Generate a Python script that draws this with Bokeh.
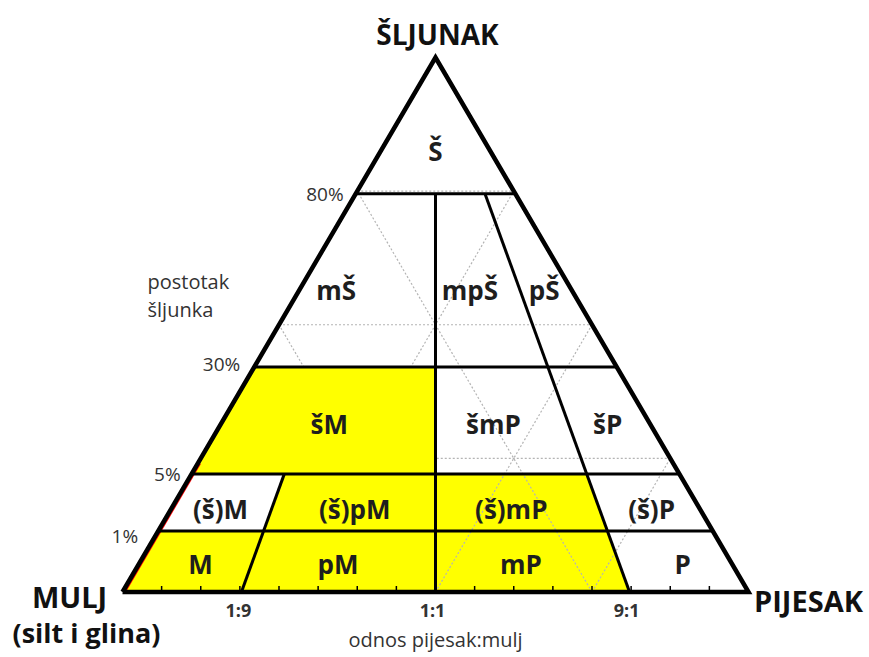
from bokeh.plotting import figure
from bokeh.models import Range1d, ColumnDataSource
from bokeh.core.properties import value
from bokeh.embed import file_html
from bokeh.resources import INLINE

# ---------------- data ----------------
# gravel boundaries (percent) and their drawn height on the (non-linear) gravel axis, fraction of triangle height
gravel_pct = [1, 5, 30, 80]
gravel_h = [0.114, 0.221, 0.421, 0.745]
# sand:mud ratio boundaries and their position on the base (fraction of base)
ratio_labels = ["1:9", "1:1", "9:1"]
ratio_pos = [0.19, 0.5, 0.81]

# textural classes: label, ratio band (index into bounds), gravel band (index into levels)
region_labels = ["Š", "mŠ", "mpŠ", "pŠ", "šM", "šmP", "šP",
                 "(š)M", "(š)pM", "(š)mP", "(š)P", "M", "pM", "mP", "P"]
region_ratio_band = [(0, 4), (0, 2), (2, 3), (3, 4), (0, 2), (2, 3), (3, 4),
                     (0, 1), (1, 2), (2, 3), (3, 4), (0, 1), (1, 2), (2, 3), (3, 4)]
region_gravel_band = [(4, 5), (3, 4), (3, 4), (3, 4), (2, 3), (2, 3), (2, 3),
                      (1, 2), (1, 2), (1, 2), (1, 2), (0, 1), (0, 1), (0, 1), (0, 1)]
highlighted = ["šM", "(š)pM", "(š)mP", "M", "pM", "mP"]

# ---------------- geometry helpers ----------------
b_bounds = [0.0] + ratio_pos + [1.0]
h_levels = [0.0] + gravel_h + [1.0]


def pt(b, h):
    """point at base position b on the line toward the apex, at height h"""
    return b + (0.5 - b) * h, h


# pixel layout of the triangle inside the figure
BX0, BX1, BY, AY = 122.0, 748.0, 591.5, 57.0
W, H = 867, 655
sx = BX1 - BX0
sy = BY - AY
x_range = Range1d((0 - BX0) / sx, (W - BX0) / sx)
y_range = Range1d((BY - H) / sy, BY / sy)

p = figure(width=W, height=H, x_range=x_range, y_range=y_range,
           output_backend="svg", toolbar_location=None, min_border=0)
p.axis.visible = False
p.grid.visible = False
p.outline_line_color = None
p.background_fill_color = "white"
p.border_fill_color = "white"

# region polygons
xs, ys, fills, cx, cy, names = [], [], [], [], [], []
for lab, (r0, r1), (g0, g1) in zip(region_labels, region_ratio_band, region_gravel_band):
    b0, b1 = b_bounds[r0], b_bounds[r1]
    h0, h1 = h_levels[g0], h_levels[g1]
    corners = [pt(b0, h0), pt(b1, h0), pt(b1, h1), pt(b0, h1)]
    xs.append([c[0] for c in corners])
    ys.append([c[1] for c in corners])
    fills.append("#ffff00" if lab in highlighted else "#ffffff")
    hm = (h0 + h1) / 2 if g1 < 5 else h0 + (h1 - h0) / 3
    xl, _ = pt(b0, hm)
    xr, _ = pt(b1, hm)
    cx.append((xl + xr) / 2)
    cy.append(hm)
    names.append(lab)

# left-lower classes hide the background grid
covered = {"šM", "(š)M", "(š)pM", "M", "pM"}
idx_open = [i for i, n in enumerate(names) if n not in covered]
idx_cov = [i for i, n in enumerate(names) if n in covered]

p.patches([xs[i] for i in idx_open], [ys[i] for i in idx_open],
          fill_color=[fills[i] for i in idx_open], line_color=None)

# light dotted ternary grid (quarters)
q = [0.25, 0.5, 0.75]
gx0, gy0, gx1, gy1 = [], [], [], []
for t in q:
    gx0.append(0.5 * t); gy0.append(t); gx1.append(1 - 0.5 * t); gy1.append(t)
    gx0.append(t); gy0.append(0); gx1.append(0.5 + 0.5 * t); gy1.append(1 - t)
    gx0.append(t); gy0.append(0); gx1.append(0.5 * t); gy1.append(t)
p.segment(gx0, gy0, gx1, gy1, line_color="#b4b4b4", line_width=1.2, line_dash="2 2")

p.patches([xs[i] for i in idx_cov], [ys[i] for i in idx_cov],
          fill_color=[fills[i] for i in idx_cov], line_color=None)

# red trace along the left edge near the base
rx0, ry0 = pt(0, 0)
rx1, ry1 = pt(0, 0.24)
d = 2.6 / sx
p.line([rx0 + d, rx1 + d], [ry0, ry1], line_color="red", line_width=1.5)

# class boundaries
lx0, ly0, lx1, ly1 = [], [], [], []
for h in gravel_h:
    a = pt(0, h); b = pt(1, h)
    lx0.append(a[0]); ly0.append(a[1]); lx1.append(b[0]); ly1.append(b[1])
for bpos, htop in [(ratio_pos[0], gravel_h[1]), (ratio_pos[1], gravel_h[3]), (ratio_pos[2], gravel_h[3])]:
    a = pt(bpos, 0); b = pt(bpos, htop)
    lx0.append(a[0]); ly0.append(a[1]); lx1.append(b[0]); ly1.append(b[1])
p.segment(lx0, ly0, lx1, ly1, line_color="black", line_width=3)

# base ticks
tk = [i / 16 for i in range(1, 16)]
p.segment(tk, [0] * len(tk), tk, [6 / sy] * len(tk), line_color="black", line_width=1.5)

# triangle outline
p.line([0, 0.5, 1, 0], [0, 1, 0, 0], line_color="black", line_width=4.5, line_join="miter")

FONT = value("Open Sans")
# class labels
dx = {"mŠ": -34, "mpŠ": -6, "pŠ": 3, "šmP": -8, "(š)M": -4, "(š)mP": -5, "(š)P": 5,
      "M": 4, "pM": -6, "mP": -6, "P": 8}
dy = {"mŠ": 10, "mpŠ": 10, "pŠ": 10, "šM": 4, "šmP": 4, "šP": 4, "Š": 3,
      "(š)M": 7, "(š)pM": 7, "(š)mP": 7, "(š)P": 7, "M": 2, "pM": 2, "mP": 2, "P": 2}
src = ColumnDataSource(dict(x=cx, y=cy, t=names,
                            xo=[dx.get(n, 0) for n in names],
                            yo=[dy.get(n, 0) for n in names]))
p.text("x", "y", text="t", source=src, x_offset="xo", y_offset="yo",
       text_align="center", text_baseline="middle", text_font=FONT,
       text_font_style="bold", text_font_size="26px", text_color="#1e1e1e")

# gravel percentages
pl = [pt(0, h) for h in gravel_h]
p.text([a[0] for a in pl], [a[1] for a in pl], text=[f"{g}%" for g in gravel_pct],
       x_offset=[-20, -11, -14, -12], y_offset=[5, 0, -3, 0],
       text_align="right", text_baseline="middle", text_font=FONT,
       text_font_size="19px", text_color="#333333")
p.text([(147 - BX0) / sx] * 2, [(BY - 281) / sy, (BY - 309) / sy], text=["postotak", "šljunka"],
       text_align="left", text_baseline="middle", text_font=FONT,
       text_font_size="20px", text_color="#333333")

# ratio labels
p.text(ratio_pos, [0] * 3, text=ratio_labels, x_offset=-3, y_offset=18,
       text_align="center", text_baseline="middle", text_font=FONT,
       text_font_size="18px", text_color="#333333", text_font_style="bold")
p.text([0.5], [0], text=["odnos pijesak:mulj"], y_offset=47,
       text_align="center", text_baseline="middle", text_font=FONT,
       text_font_size="20px", text_color="#333333")

# vertex labels
p.text([0.5], [1], text=["ŠLJUNAK"], x_offset=2, y_offset=-24,
       text_align="center", text_baseline="middle", text_font=FONT,
       text_font_style="bold", text_font_size="28px", text_color="#111111")
p.text([0], [0], text=["MULJ"], x_offset=-53, y_offset=4,
       text_align="center", text_baseline="middle", text_font=FONT,
       text_font_style="bold", text_font_size="29px", text_color="#111111")
p.text([0], [0], text=["(silt i glina)"], x_offset=-36, y_offset=40,
       text_align="center", text_baseline="middle", text_font=FONT,
       text_font_style="bold", text_font_size="27px", text_color="#111111")
p.text([1], [0], text=["PIJESAK"], x_offset=60, y_offset=8,
       text_align="center", text_baseline="middle", text_font=FONT,
       text_font_style="bold", text_font_size="29px", text_color="#111111")

open("out.html", "w").write(file_html(p, INLINE))
